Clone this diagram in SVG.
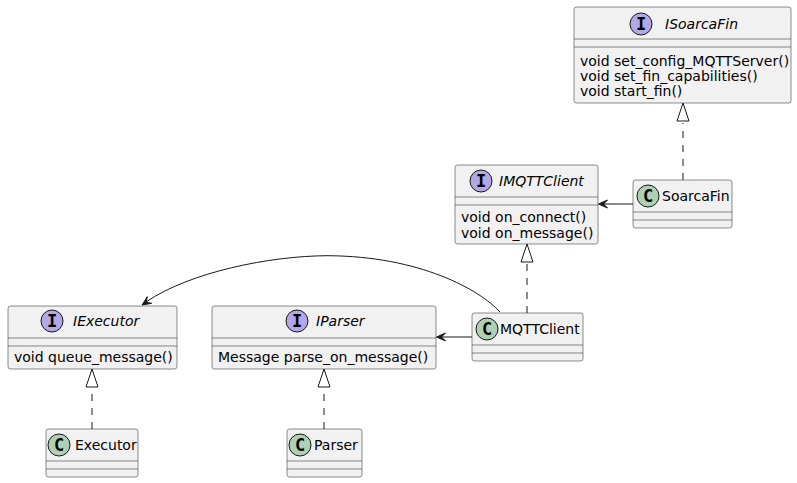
<svg xmlns="http://www.w3.org/2000/svg" width="797" height="483" viewBox="0 0 797 483">
<style>
.box{fill:#F1F1F1;stroke:#181818;stroke-width:0.5}
.sep{stroke:#181818;stroke-width:0.5}
.ci{fill:#B4A7E5;stroke:#181818;stroke-width:1}
.cc{fill:#ADD1B2;stroke:#181818;stroke-width:1}
.t{font-family:"DejaVu Sans",sans-serif;font-size:14px;fill:#000}
.ti{font-family:"DejaVu Sans",sans-serif;font-size:14px;font-style:italic;fill:#000}
.l{font-family:"DejaVu Sans Mono",monospace;font-size:17px;font-weight:bold;fill:#000;text-anchor:middle}
.ln{fill:none;stroke:#181818;stroke-width:1}
.ah{fill:#181818;stroke:#181818;stroke-width:1}
.dash{fill:none;stroke:#181818;stroke-width:1;stroke-dasharray:7,7}
.tri{fill:none;stroke:#181818;stroke-width:1}
</style>
<rect width="797" height="483" fill="#FFFFFF"/>
<g id="ISoarcaFin">
<rect class="box" x="574" y="7" width="217" height="96" rx="2.5"/>
<circle class="ci" cx="641" cy="24" r="11"/>
<text class="l" x="641" y="30">I</text>
<text class="ti" x="665" y="29">ISoarcaFin</text>
<line class="sep" x1="574" y1="39" x2="791" y2="39"/>
<line class="sep" x1="574" y1="47" x2="791" y2="47"/>
<text class="t" x="580" y="65.5">void set_config_MQTTServer()</text>
<text class="t" x="580" y="80.8">void set_fin_capabilities()</text>
<text class="t" x="580" y="96">void start_fin()</text>
</g>
<g id="IMQTTClient">
<rect class="box" x="455" y="165" width="143" height="79" rx="2.5"/>
<circle class="ci" cx="481" cy="181" r="11"/>
<text class="l" x="481" y="187">I</text>
<text class="ti" x="499" y="186">IMQTTClient</text>
<line class="sep" x1="455" y1="197" x2="598" y2="197"/>
<line class="sep" x1="455" y1="205" x2="598" y2="205"/>
<text class="t" x="461" y="222">void on_connect()</text>
<text class="t" x="461" y="237.5">void on_message()</text>
</g>
<g id="SoarcaFin">
<rect class="box" x="633" y="180" width="99" height="48" rx="2.5"/>
<circle class="cc" cx="648" cy="196" r="11"/>
<text class="l" x="648" y="202">C</text>
<text class="t" x="662" y="201">SoarcaFin</text>
<line class="sep" x1="633" y1="212" x2="732" y2="212"/>
<line class="sep" x1="633" y1="220" x2="732" y2="220"/>
</g>
<g id="IExecutor">
<rect class="box" x="8" y="306" width="169" height="63" rx="2.5"/>
<circle class="ci" cx="52" cy="321" r="11"/>
<text class="l" x="52" y="327">I</text>
<text class="ti" x="73" y="326">IExecutor</text>
<line class="sep" x1="8" y1="338" x2="177" y2="338"/>
<line class="sep" x1="8" y1="346" x2="177" y2="346"/>
<text class="t" x="14" y="362">void queue_message()</text>
</g>
<g id="IParser">
<rect class="box" x="212" y="306" width="224" height="63" rx="2.5"/>
<circle class="ci" cx="297" cy="321" r="11"/>
<text class="l" x="297" y="327">I</text>
<text class="ti" x="316" y="326">IParser</text>
<line class="sep" x1="212" y1="338" x2="436" y2="338"/>
<line class="sep" x1="212" y1="346" x2="436" y2="346"/>
<text class="t" x="218" y="362">Message parse_on_message()</text>
</g>
<g id="MQTTClient">
<rect class="box" x="472" y="313" width="111" height="48" rx="2.5"/>
<circle class="cc" cx="487" cy="329" r="11"/>
<text class="l" x="487" y="335">C</text>
<text class="t" x="500" y="334">MQTTClient</text>
<line class="sep" x1="472" y1="345" x2="583" y2="345"/>
<line class="sep" x1="472" y1="353" x2="583" y2="353"/>
</g>
<g id="Executor">
<rect class="box" x="46" y="429" width="92" height="48" rx="2.5"/>
<circle class="cc" cx="59" cy="445" r="11"/>
<text class="l" x="59" y="451">C</text>
<text class="t" x="75" y="450">Executor</text>
<line class="sep" x1="46" y1="461" x2="138" y2="461"/>
<line class="sep" x1="46" y1="469" x2="138" y2="469"/>
</g>
<g id="Parser">
<rect class="box" x="287" y="429" width="75" height="48" rx="2.5"/>
<circle class="cc" cx="300" cy="445" r="11"/>
<text class="l" x="300" y="451">C</text>
<text class="t" x="314" y="450">Parser</text>
<line class="sep" x1="287" y1="461" x2="362" y2="461"/>
<line class="sep" x1="287" y1="469" x2="362" y2="469"/>
</g>
<g id="connectors">
<path class="dash" d="M683,180 L683,123"/>
<polygon class="tri" points="683,103 677,121 689,121"/>
<path class="ln" d="M633,204 L603,204"/>
<polygon class="ah" points="598.5,204 607.5,200 603.5,204 607.5,208"/>
<path class="dash" d="M527,313 L527,262"/>
<polygon class="tri" points="527,244 521,262 533,262"/>
<path class="ln" d="M472,337 L441,337"/>
<polygon class="ah" points="436.5,337 445.5,333 441.5,337 445.5,341"/>
<path class="ln" d="M500,312 C480,290 420,256 327,255.7 C270,256 190,272 146,302"/>
<polygon class="ah" points="142,305 151.7,303.3 146.2,302.2 147.3,296.7"/>
<path class="dash" d="M92,429 L92,387"/>
<polygon class="tri" points="92,369 86,387 98,387"/>
<path class="dash" d="M324,429 L324,387"/>
<polygon class="tri" points="324,369 318,387 330,387"/>
</g>
</svg>
